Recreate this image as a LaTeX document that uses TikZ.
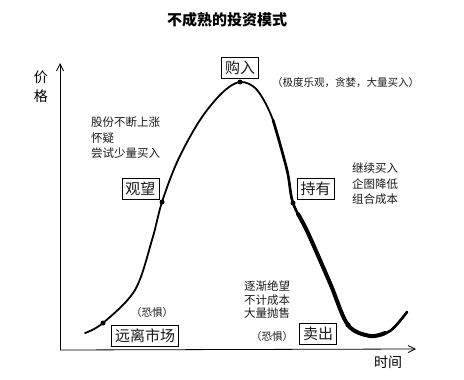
\documentclass[tikz,border=0pt]{standalone}
\usepackage{fontspec}
\newfontfamily\cjk{Noto Sans CJK SC}
\usetikzlibrary{positioning, arrows.meta}
\tikzset{
stage/.style = {rectangle, draw, thin, fill = white, inner sep = 3.5pt,
   font = \cjk\fontsize{15}{15}\selectfont, text = black!90},
note/.style = {align = left, inner sep = 0pt, anchor = north west, text = black!90,
   font = \cjk\fontsize{11.5}{15.5}\selectfont},
remark/.style = {inner sep = 0pt, text = black!90, font = \cjk\fontsize{10.5}{10.5}\selectfont},
axis/.style = {-{Straight Barb[length = 2.5mm, width = 2.5mm]}, line width = 0.8pt},
market/.style = {line width = 1.8pt, line cap = round, line join = round},
point/.style = {circle, fill, inner sep = 0pt, minimum size = 5pt}
}
\begin{document}
\begin{tikzpicture}[x = 1pt, y = -1pt]
\useasboundingbox (0,0) rectangle (464,380);

%% Title
\node [font = \cjk\bfseries\fontsize{15}{15}\selectfont] (title) at (227,20) {不成熟的投资模式};

%% The axes
\coordinate (origin) at (60,350);
\coordinate (yend) at (60,63);
\coordinate (xend) at (416,349);
\draw [axis] (origin) -- (yend);
\draw [axis] (origin) -- (xend);
\node [font = \cjk\fontsize{14}{19}\selectfont, align = center, inner sep = 0pt] (price) at (41,87) {价\\格};
\node [font = \cjk\fontsize{14}{14}\selectfont, inner sep = 0pt] (time) at (388,362) {时间};

%% The market cycle
\coordinate (start) at (85,333);
\coordinate (p1) at (103,323);
\coordinate (p2) at (162,202);
\coordinate (peak) at (240,82);
\coordinate (p3) at (293,203);
\coordinate (p4) at (348,325);
\coordinate (low) at (370,336);
\coordinate (end) at (407,312);

\draw [market] plot [smooth, tension = 0.55] coordinates {(start) (p1) (135,290) (152,240) (p2)
   (178,160) (200,120) (222,93) (peak) (257,90) (273,120) (287,170) (p3) (308,233)
   (330,283) (p4) (low) (390,331) (end)};
\draw [market, line width = 2.6pt] plot [smooth, tension = 0.55] coordinates {(273,120)
   (287,170) (p3) (308,233) (330,283) (p4) (low) (390,331) (end)};
\draw [market, line width = 4pt] plot [smooth, tension = 0.55] coordinates {(298,214)
   (308,233) (330,283) (p4) (low) (385,333)};

\foreach \p in {p1, p2, peak, p3, p4}
   \node [point] at (\p) {};

%% The stages
\node [stage] (buy) [above = 4pt of peak] {购入};
\node [stage] (watch) [above left = 3pt and 3pt of p2] {观望};
\node [stage] (hold) [above right = 4pt and 4pt of p3] {持有};
\node [stage] (leave) at (145,336) {远离市场};
\node [stage] (sell) at (318,334) {卖出};

%% What the investor feels
\node [note] (rise) at (91,117) {股份不断上涨\\怀疑\\尝试少量买入};
\node [remark, anchor = west] (greed) at (272,83) {（极度乐观，贪婪，大量买入）};
\node [note] (average) at (352,163) {继续买入\\企图降低\\组合成本};
\node [note, font = \cjk\fontsize{11.5}{13.5}\selectfont] (despair) at (244,281) {逐渐绝望\\不计成本\\大量抛售};
\node [remark] (fear1) at (152,313) {（恐惧）};
\node [remark] (fear2) at (272,337) {（恐惧）};

\end{tikzpicture}
\end{document}
